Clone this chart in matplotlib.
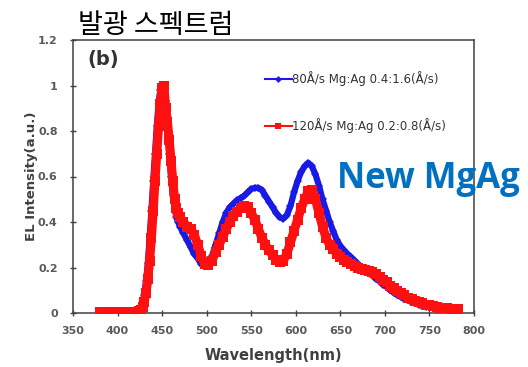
import matplotlib
matplotlib.use("Agg")
import matplotlib.pyplot as plt

# ── Data ──────────────────────────────────────────────────────────────────────
wavelength = [380, 384, 388, 392, 396, 400, 404, 408, 412, 416, 420, 424,
              426, 428, 430, 432, 434, 436, 438, 440, 442, 444, 446, 448,
              450, 452, 454, 456, 458, 460, 462, 464, 466, 468,
              470, 474, 478, 482, 486, 490, 494, 498, 502, 506, 510, 514,
              518, 522, 526, 530, 534, 538, 542, 546, 550, 554, 558, 562,
              566, 570, 574, 578, 582, 586, 590, 594, 598, 602, 606, 610,
              614, 618, 622, 626, 630, 634, 638, 642, 646, 650, 654, 658,
              662, 666, 670, 674, 678, 682, 686, 690, 694, 698, 702, 706,
              710, 714, 718, 722, 726, 730, 734, 738, 742, 746, 750, 754,
              758, 762, 766, 770, 774, 778, 782]

el_80 = [0.005, 0.005, 0.005, 0.005, 0.005, 0.005, 0.005, 0.005, 0.005, 0.005, 0.006, 0.012,
         0.02, 0.04, 0.08, 0.14, 0.22, 0.33, 0.45, 0.58, 0.70, 0.82, 0.92, 0.98,
         1.0, 0.99, 0.93, 0.82, 0.70, 0.60, 0.52, 0.46, 0.42, 0.40,
         0.38, 0.35, 0.32, 0.29, 0.26, 0.24, 0.215, 0.205, 0.215, 0.25, 0.30, 0.35,
         0.40, 0.44, 0.465, 0.48, 0.495, 0.505, 0.515, 0.53, 0.545, 0.55, 0.55, 0.54,
         0.515, 0.49, 0.465, 0.44, 0.42, 0.415, 0.43, 0.47, 0.53, 0.58, 0.62, 0.645,
         0.66, 0.645, 0.61, 0.56, 0.50, 0.45, 0.40, 0.36, 0.32, 0.295, 0.275, 0.26,
         0.245, 0.23, 0.215, 0.20, 0.19, 0.175, 0.165, 0.15, 0.14, 0.125, 0.115, 0.10,
         0.09, 0.08, 0.07, 0.062, 0.055, 0.048, 0.042, 0.037, 0.032, 0.028, 0.025, 0.022,
         0.02, 0.018, 0.016, 0.015, 0.014, 0.013, 0.012]

el_120 = [0.005, 0.005, 0.005, 0.005, 0.005, 0.005, 0.005, 0.005, 0.005, 0.005, 0.005, 0.008,
          0.012, 0.025, 0.05, 0.09, 0.15, 0.23, 0.33, 0.45, 0.58, 0.70, 0.82, 0.92,
          0.99, 1.0, 0.90, 0.84, 0.76, 0.67, 0.58, 0.50, 0.46, 0.44,
          0.42, 0.40, 0.38, 0.37, 0.345, 0.30, 0.25, 0.215, 0.21, 0.23, 0.27, 0.30,
          0.335, 0.37, 0.40, 0.425, 0.445, 0.46, 0.47, 0.465, 0.44, 0.41, 0.37, 0.33,
          0.30, 0.275, 0.255, 0.235, 0.225, 0.23, 0.26, 0.31, 0.36, 0.41, 0.46, 0.50,
          0.535, 0.54, 0.50, 0.44, 0.38, 0.33, 0.30, 0.28, 0.26, 0.245, 0.235, 0.225,
          0.215, 0.205, 0.20, 0.195, 0.19, 0.185, 0.18, 0.17, 0.16, 0.145, 0.135, 0.12,
          0.108, 0.097, 0.087, 0.077, 0.068, 0.06, 0.053, 0.047, 0.042, 0.037, 0.033, 0.03,
          0.027, 0.024, 0.022, 0.02, 0.019, 0.018, 0.017]

labels = ["80Å/s Mg:Ag 0.4:1.6(Å/s)", "120Å/s Mg:Ag 0.2:0.8(Å/s)"]
x_ticks = [350, 400, 450, 500, 550, 600, 650, 700, 750, 800]
y_ticks = [0, 0.2, 0.4, 0.6, 0.8, 1.0, 1.2]
y_ticklabels = ["0", "0.2", "0.4", "0.6", "0.8", "1", "1.2"]

# ── Style ─────────────────────────────────────────────────────────────────────
BLUE = "#1a1ae6"
RED = "#ff1010"
TICK_GREY = "#5a5a5a"
AXIS_GREY = "#404040"
plt.rcParams["font.family"] = ["DejaVu Sans"]

fig = plt.figure(figsize=(5.28, 3.67), dpi=100)
ax = fig.add_axes([73 / 528, 1 - 313 / 367, 401 / 528, 273 / 367])

# thick lines + markers so the dense spectra read as solid bands
ax.plot(wavelength, el_80, color=BLUE, linewidth=4.5, marker="D",
        markersize=4.5, markeredgewidth=0, zorder=2)
ax.plot(wavelength, el_120, color=RED, linewidth=6.5, marker="s",
        markersize=7.5, markeredgewidth=0, zorder=3)

# legend proxies (thin line + small marker, as in the original)
h1, = ax.plot([], [], color=BLUE, linewidth=1.5, marker="D", markersize=3.5,
              markeredgewidth=0, label=labels[0])
h2, = ax.plot([], [], color=RED, linewidth=1.5, marker="s", markersize=5,
              markeredgewidth=0, label=labels[1])

ax.set_xlim(350, 800)
ax.set_ylim(0, 1.2)
ax.set_xticks(x_ticks)
ax.set_yticks(y_ticks)
ax.set_yticklabels(y_ticklabels)
ax.tick_params(direction="inout", length=4, width=1, colors=AXIS_GREY,
               labelcolor=TICK_GREY, labelsize=8)
ax.tick_params(axis="x", pad=7)
ax.tick_params(axis="y", pad=9)
for lab in ax.get_xticklabels() + ax.get_yticklabels():
    lab.set_fontweight("bold")
for sp in ax.spines.values():
    sp.set_color(AXIS_GREY)
    sp.set_linewidth(1.1)

ax.set_xlabel("Wavelength(nm)", fontsize=10.5, fontweight="bold", color=AXIS_GREY, labelpad=9)
ax.set_ylabel("EL Intensity(a.u.)", fontsize=9.5, fontweight="bold", color=AXIS_GREY, labelpad=0)

ax.text(0.037, 0.965, "(b)", transform=ax.transAxes, fontsize=14,
        fontweight="bold", color="#333333", va="top", ha="left")

leg = ax.legend(handles=[h1, h2], loc="upper left", bbox_to_anchor=(0.478, 0.885),
                frameon=False, fontsize=8.5, labelspacing=2.7, handlelength=2.3,
                handletextpad=0.05, borderaxespad=0, borderpad=0)
for t in leg.get_texts():
    t.set_fontfamily("Liberation Sans Narrow")
    t.set_color("#333333")

fig.text(78 / 528, 1 - 33 / 367, "발광 스펙트럼", fontsize=19.5,
         family=["Noto Sans CJK KR", "DejaVu Sans"], color="black",
         ha="left", va="baseline")
fig.text(337 / 528, 1 - 188 / 367, "New MgAg", fontsize=25,
         family="Open Sans", fontweight="bold", color="#0070C0",
         ha="left", va="baseline")

fig.savefig("out.png", dpi=100)
